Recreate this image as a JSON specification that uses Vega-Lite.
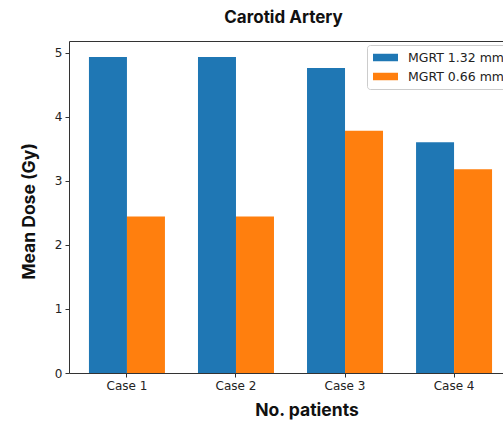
{
  "$schema": "https://vega.github.io/schema/vega-lite/v6.json",
  "autosize": "none",
  "padding": {"left": 69, "top": 41, "right": 0, "bottom": 48},
  "width": 443,
  "height": 332,
  "background": "white",
  "title": {
    "text": "Carotid Artery",
    "font": "Inter",
    "fontSize": 17,
    "fontWeight": "bold",
    "color": "#111",
    "anchor": "middle",
    "dx": -7,
    "offset": 14
  },
  "data": {
    "values": [
      {"case": "Case 1", "series": "MGRT 1.32 mm", "dose": 4.93},
      {"case": "Case 1", "series": "MGRT 0.66 mm", "dose": 2.44},
      {"case": "Case 2", "series": "MGRT 1.32 mm", "dose": 4.93},
      {"case": "Case 2", "series": "MGRT 0.66 mm", "dose": 2.44},
      {"case": "Case 3", "series": "MGRT 1.32 mm", "dose": 4.76},
      {"case": "Case 3", "series": "MGRT 0.66 mm", "dose": 3.78},
      {"case": "Case 4", "series": "MGRT 1.32 mm", "dose": 3.60},
      {"case": "Case 4", "series": "MGRT 0.66 mm", "dose": 3.18}
    ]
  },
  "mark": {"type": "bar"},
  "encoding": {
    "x": {
      "field": "case",
      "type": "nominal",
      "scale": {"paddingInner": 0.303, "paddingOuter": 0.183},
      "axis": {
        "title": "No. patients",
        "labelAngle": 0,
        "labelFont": "DejaVu Sans",
        "labelFontSize": 12,
        "labelColor": "#222",
        "labelPadding": 3,
        "tickSize": 4,
        "tickColor": "#333",
        "domain": false,
        "titleFont": "Inter",
        "titleFontSize": 17.5,
        "titleFontWeight": "bold",
        "titleColor": "#111",
        "titleX": 237.5,
        "titleY": 37,
        "titleAlign": "center",
        "titleBaseline": "middle"
      }
    },
    "xOffset": {
      "field": "series",
      "type": "nominal",
      "sort": ["MGRT 1.32 mm", "MGRT 0.66 mm"],
      "scale": {"paddingInner": 0, "paddingOuter": 0}
    },
    "y": {
      "field": "dose",
      "type": "quantitative",
      "scale": {"domain": [0, 5.18], "nice": false, "zero": true},
      "axis": {
        "title": "Mean Dose (Gy)",
        "values": [0, 1, 2, 3, 4, 5],
        "grid": false,
        "domain": false,
        "labelFont": "DejaVu Sans",
        "labelFontSize": 12,
        "labelColor": "#222",
        "labelPadding": 3,
        "tickSize": 4,
        "tickColor": "#333",
        "titleFont": "Inter",
        "titleFontSize": 17.5,
        "titleFontWeight": "bold",
        "titleColor": "#111",
        "titleX": -40,
        "titleY": 170,
        "titleAlign": "center",
        "titleBaseline": "middle",
        "titleAngle": 270
      }
    },
    "color": {
      "field": "series",
      "type": "nominal",
      "sort": ["MGRT 1.32 mm", "MGRT 0.66 mm"],
      "scale": {"domain": ["MGRT 1.32 mm", "MGRT 0.66 mm"], "range": ["#1f77b4", "#ff7f0e"]},
      "legend": {
        "title": null,
        "orient": "none",
        "legendX": 298,
        "legendY": 4,
        "fillColor": "white",
        "strokeColor": "#cccccc",
        "cornerRadius": 3,
        "padding": 6,
        "symbolType": "M-2,-0.6L2,-0.6L2,0.6L-2,0.6Z",
        "symbolSize": 156,
        "symbolOffset": 6,
        "symbolStrokeWidth": 0,
        "symbolOpacity": 1,
        "labelOffset": 16,
        "labelFont": "DejaVu Sans",
        "labelFontSize": 12.5,
        "labelColor": "#222",
        "rowPadding": 6
      }
    }
  },
  "config": {
    "view": {"stroke": "#333", "strokeWidth": 1}
  }
}
